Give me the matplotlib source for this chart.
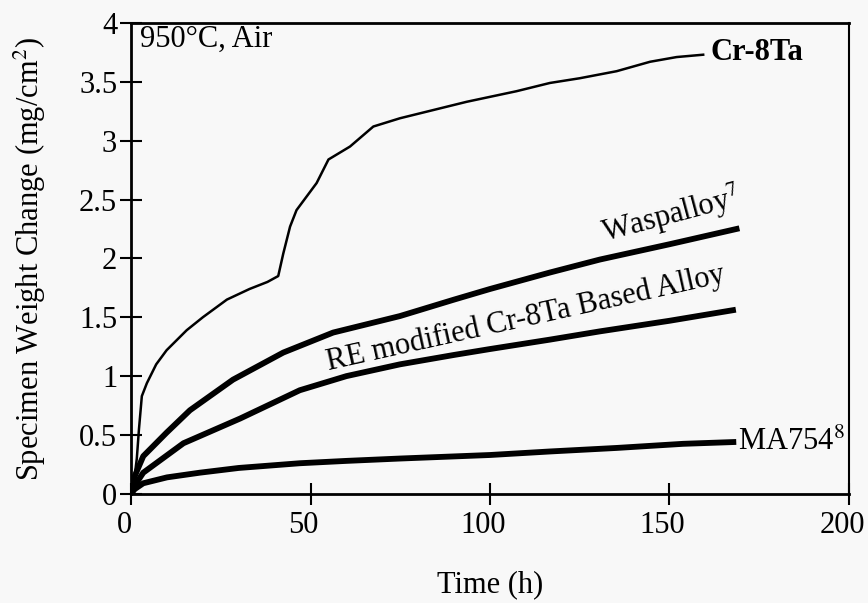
import matplotlib.pyplot as plt
import matplotlib.transforms as mtransforms

plt.rcParams['font.family'] = ['Liberation Serif', 'DejaVu Serif']
plt.rcParams['mathtext.fontset'] = 'stix'

# Cr-8Ta
t_cr = [0, 1, 1.6, 2.2, 3, 4.4, 7, 9.9, 15.5, 20, 26.7, 33, 38, 41, 42.4, 44.3,
        46.1, 51.7, 55, 61, 67.5, 74.9, 84.2, 93.5, 107.4, 116.7, 125, 135.3,
        144.6, 152, 159.4]
w_cr = [0, 0.15, 0.3, 0.55, 0.83, 0.94, 1.1, 1.22, 1.39, 1.5, 1.65, 1.74, 1.8,
        1.85, 2.04, 2.27, 2.41, 2.64, 2.84, 2.95, 3.12, 3.19, 3.26, 3.33, 3.42,
        3.49, 3.53, 3.59, 3.67, 3.71, 3.73]

# Waspalloy
t_wasp = [0, 1, 3.4, 9.9, 16.4, 28.4, 42.4, 56.3, 74.9, 90, 100, 116.7, 130.6,
          150, 168.7]
w_wasp = [0, 0.15, 0.32, 0.52, 0.71, 0.97, 1.2, 1.37, 1.51, 1.65, 1.74, 1.88,
          1.99, 2.12, 2.25]

# RE modified Cr-8Ta
t_re = [0, 1, 3.4, 14.6, 30.4, 47, 60, 74.9, 90, 100, 116.7, 130.6, 150, 167.7]
w_re = [0, 0.07, 0.18, 0.43, 0.64, 0.88, 1.0, 1.10, 1.18, 1.23, 1.31, 1.38,
        1.47, 1.56]

# MA754
t_ma = [0, 1, 3.4, 10, 19.2, 30, 47, 60, 74.9, 100, 116.7, 135.3, 153.8, 167.8]
w_ma = [0, 0.04, 0.09, 0.14, 0.18, 0.22, 0.26, 0.28, 0.3, 0.33, 0.36, 0.39,
        0.425, 0.44]

fig = plt.figure(figsize=(8.68, 6.03), dpi=100, facecolor='#f8f8f8')
ax = fig.add_axes([0.151, 0.181, 0.827, 0.781])
ax.set_facecolor('#f8f8f8')

ax.plot(t_cr, w_cr, color='black', linewidth=1.8)
ax.plot(t_wasp, w_wasp, color='black', linewidth=4.2)
ax.plot(t_re, w_re, color='black', linewidth=4.2)
ax.plot(t_ma, w_ma, color='black', linewidth=4.2)

ax.set_xlim(0, 200)
ax.set_ylim(0, 4)
ax.set_xticks([0, 50, 100, 150, 200])
ax.set_yticks([0, 0.5, 1, 1.5, 2, 2.5, 3, 3.5, 4])
ax.set_yticklabels(['0', '0.5', '1', '1.5', '2', '2.5', '3', '3.5', '4'])
ax.tick_params(axis='both', direction='inout', length=16, width=1.5,
               labelsize=22, colors='black')
ax.tick_params(axis='x', pad=4)
ax.tick_params(axis='y', pad=2)

# x tick labels sit a bit left of their ticks in the original
shift = mtransforms.ScaledTranslation(-7 / 100, 0, fig.dpi_scale_trans)
for lab in ax.get_xticklabels():
    lab.set_transform(lab.get_transform() + shift)

for s in ax.spines.values():
    s.set_linewidth(2)
ax.spines['right'].set_linewidth(1.5)

ax.set_xlabel('Time (h)', fontsize=22, labelpad=22)
ax.set_ylabel('Specimen Weight Change (mg/cm$^2$)', fontsize=22, labelpad=22)

ax.text(2.5, 3.86, '950°C, Air', fontsize=22, va='center', ha='left')
ax.text(161.5, 3.745, 'Cr-8Ta', fontsize=22, fontweight='bold', va='center', ha='left')
ax.text(132, 2.14, 'Waspalloy$^7$', fontsize=22, rotation=15,
        rotation_mode='anchor', ha='left', va='baseline')
ax.text(55, 1.05, 'RE modified Cr-8Ta Based Alloy', fontsize=22, rotation=12.5,
        rotation_mode='anchor', ha='left', va='baseline')
ax.text(169.1, 0.44, 'MA754$^8$', fontsize=22, va='center', ha='left')

fig.savefig('out.png', dpi=100, facecolor=fig.get_facecolor())
